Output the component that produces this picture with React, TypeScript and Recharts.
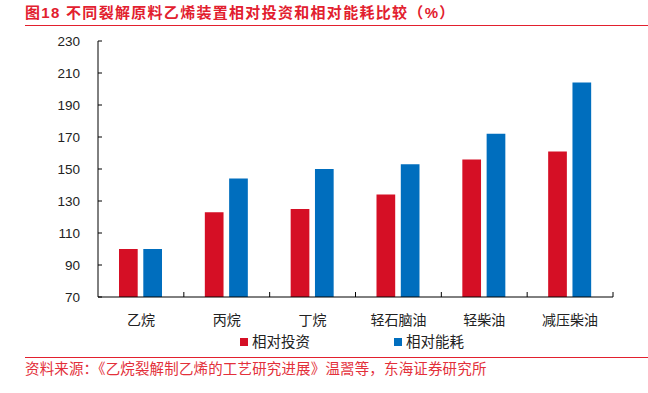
import React from "react";
import { BarChart, Bar, XAxis, YAxis } from "recharts";

// 数据
const categories = ["乙烷", "丙烷", "丁烷", "轻石脑油", "轻柴油", "减压柴油"];
const investment = [100, 123, 125, 134, 156, 161];
const energy = [100, 144, 150, 153, 172, 204];
const yTicks = [70, 90, 110, 130, 150, 170, 190, 210, 230];
const seriesNames = ["相对投资", "相对能耗"];

const RED = "#D50F25";
const BLUE = "#006EBE";
const TITLE_RED = "#E2202E";
const FONT = "'Liberation Sans', 'Noto Sans CJK SC', sans-serif";

const rows = categories.map((name, i) => ({
  name,
  investment: investment[i],
  energy: energy[i],
}));

const YTick = (props: any) => {
  const { x, y, payload } = props;
  return (
    <g>
      <line x1={x + 18} x2={x + 22} y1={y} y2={y} stroke="#000" strokeWidth={1} />
      <text x={x} y={y} dy={5} textAnchor="end" fontSize={13.5} fill="#222" fontFamily={FONT}>
        {payload.value}
      </text>
    </g>
  );
};

const XTick = (props: any) => {
  const { x, y, payload } = props;
  const half = payload.offset ?? 43;
  return (
    <g>
      <line x1={x + half} x2={x + half} y1={y} y2={y - 5} stroke="#000" strokeWidth={1} />
      <text x={x} y={y + 28} textAnchor="middle" fontSize={14} fill="#222" fontFamily={FONT}>
        {payload.value}
      </text>
    </g>
  );
};

const App: React.FC = () => {
  return (
    <div
      style={{
        position: "absolute",
        left: 0,
        top: 0,
        width: 648,
        height: 393,
        background: "#fff",
        fontFamily: FONT,
      }}
    >
      <div
        style={{
          position: "absolute",
          left: 25,
          top: 4,
          fontSize: 15,
          lineHeight: "18px",
          fontWeight: "bold",
          letterSpacing: 1.3,
          color: TITLE_RED,
          whiteSpace: "nowrap",
        }}
      >
        图18 不同裂解原料乙烯装置相对投资和相对能耗比较（%）
      </div>
      <div style={{ position: "absolute", left: 25, top: 24.5, width: 623, height: 1.5, background: TITLE_RED }} />

      <BarChart
        width={648}
        height={393}
        data={rows}
        margin={{ top: 41, right: 35, left: 0, bottom: 66 }}
        barSize={18.7}
        barGap={5.6}
      >
        <XAxis
          dataKey="name"
          height={30}
          tickSize={0}
          tickMargin={0}
          tickLine={false}
          axisLine={{ stroke: "#000", strokeWidth: 1 }}
          tick={<XTick />}
          interval={0}
        />
        <YAxis
          width={98}
          domain={[70, 230]}
          ticks={yTicks}
          interval={0}
          tickSize={0}
          tickMargin={18}
          tickLine={false}
          axisLine={{ stroke: "#000", strokeWidth: 1 }}
          tick={<YTick />}
        />
        <Bar dataKey="investment" name={seriesNames[0]} fill={RED} isAnimationActive={false} />
        <Bar dataKey="energy" name={seriesNames[1]} fill={BLUE} isAnimationActive={false} />
      </BarChart>

      {/* 图例 */}
      {seriesNames.map((s, i) => (
        <div
          key={s}
          style={{
            position: "absolute",
            left: i === 0 ? 240 : 394,
            top: 333,
            display: "flex",
            alignItems: "center",
            fontSize: 14.5,
            lineHeight: "18px",
            color: "#222",
            whiteSpace: "nowrap",
          }}
        >
          <span style={{ display: "inline-block", width: 8, height: 8, background: i === 0 ? RED : BLUE, marginRight: 4 }} />
          {s}
        </div>
      ))}

      <div style={{ position: "absolute", left: 25, top: 357, width: 623, height: 1.2, background: TITLE_RED }} />
      <div
        style={{
          position: "absolute",
          left: 25,
          top: 360,
          fontSize: 14.5,
          lineHeight: "18px",
          letterSpacing: 0.15,
          color: "#E3303A",
          whiteSpace: "nowrap",
        }}
      >
        资料来源：《乙烷裂解制乙烯的工艺研究进展》温翯等，东海证券研究所
      </div>
    </div>
  );
};

export default App;
